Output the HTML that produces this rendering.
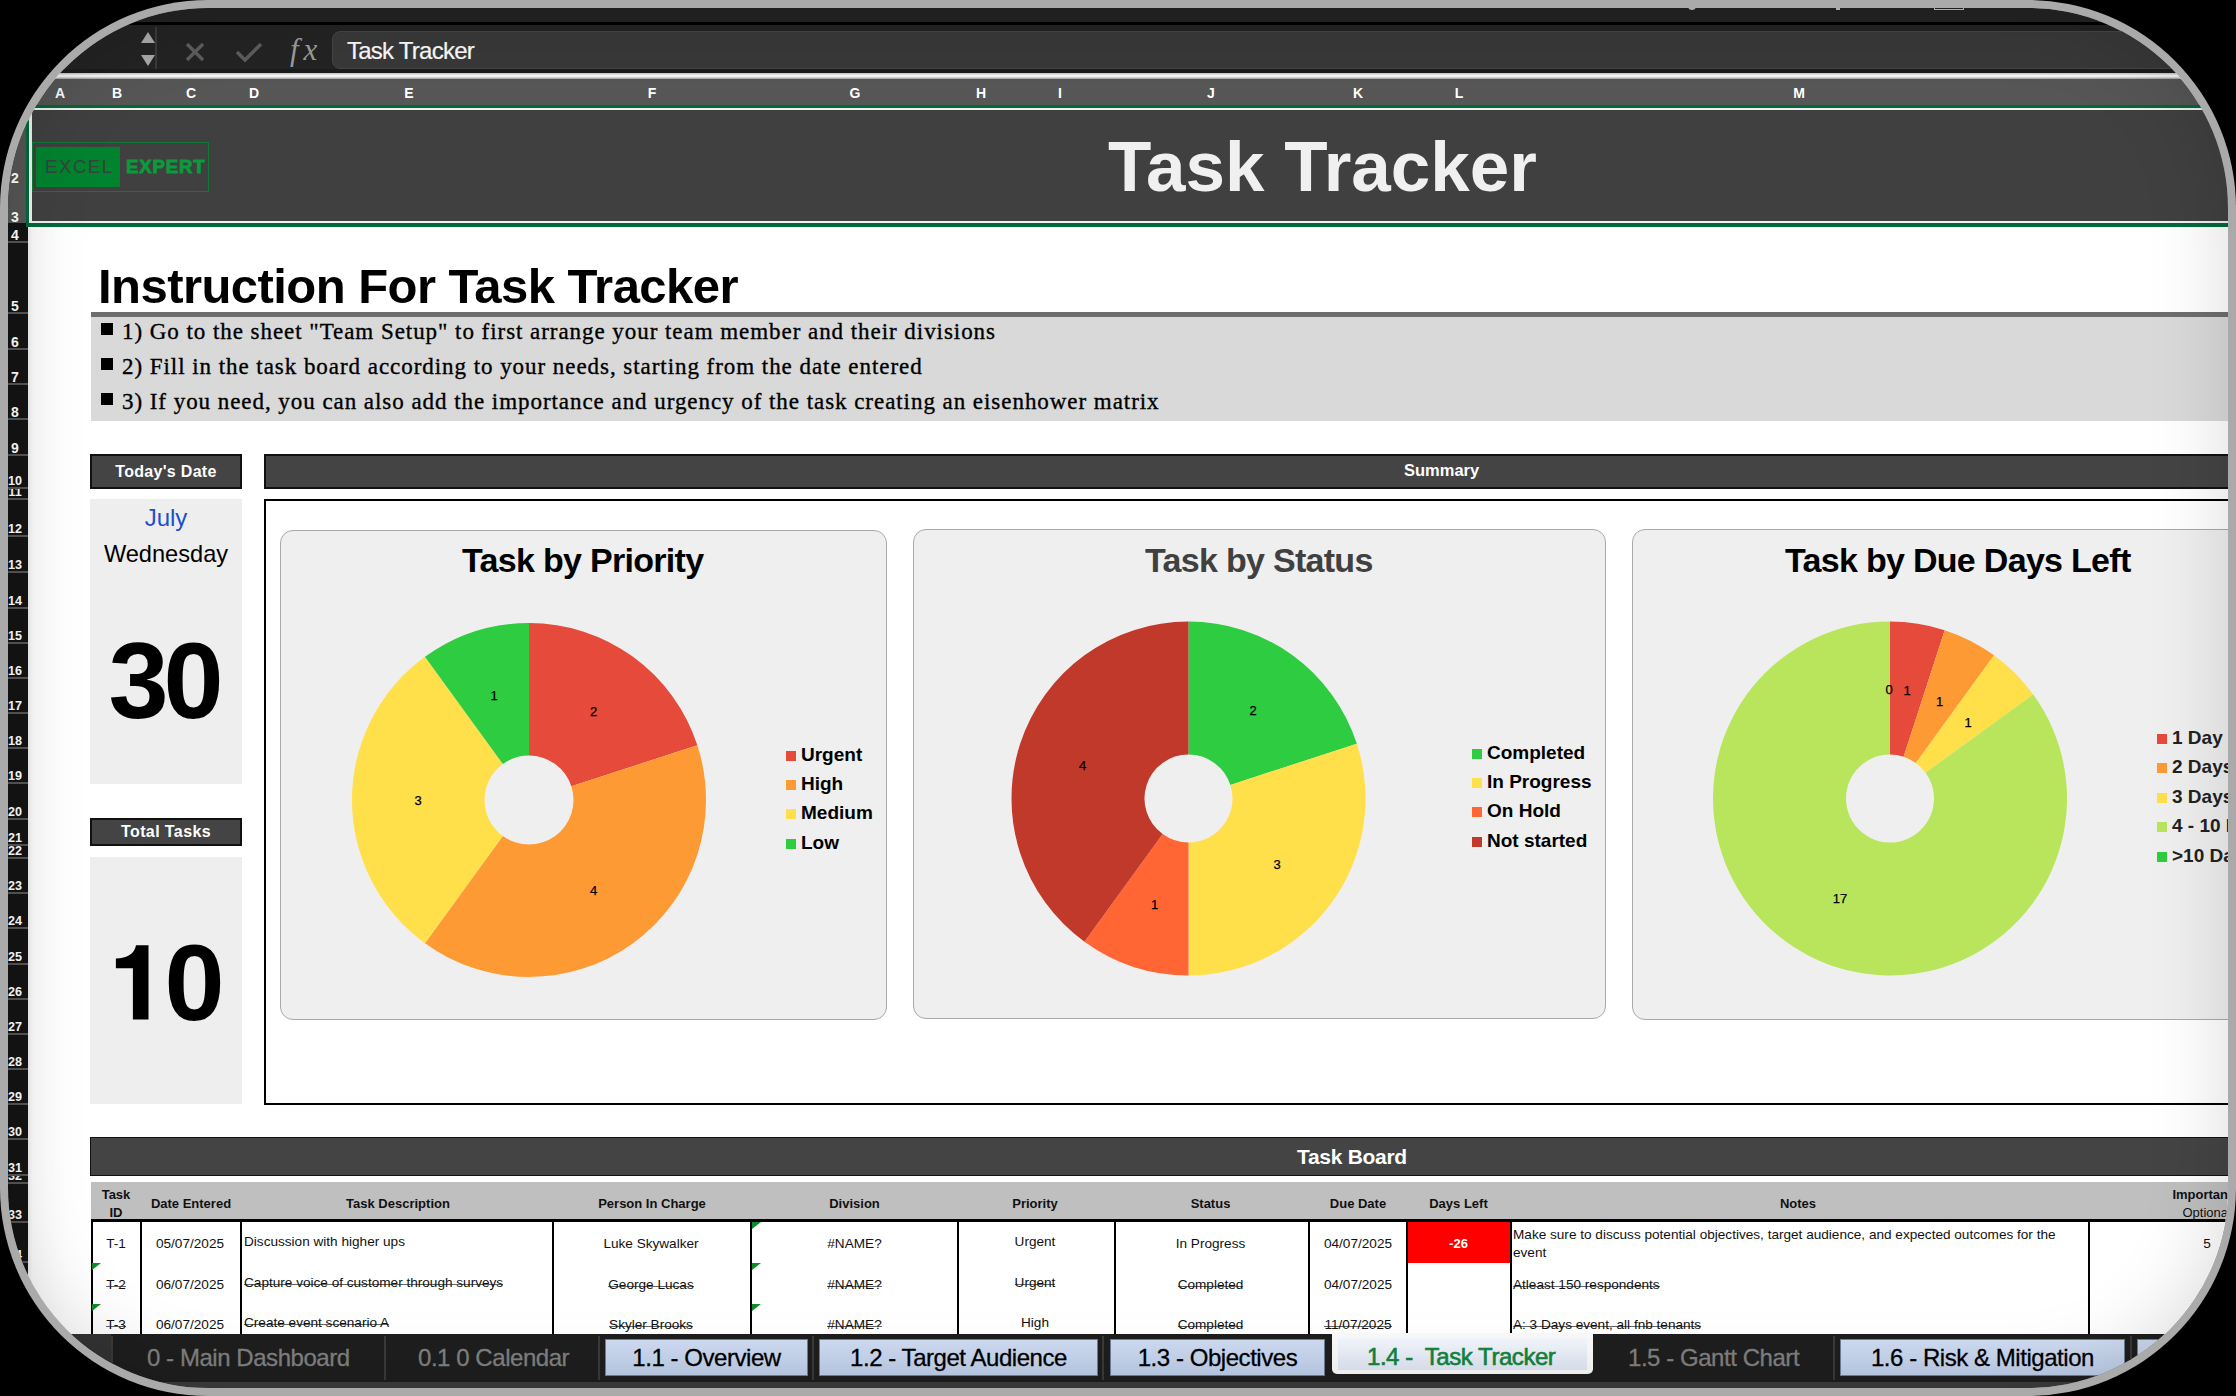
<!DOCTYPE html>
<html><head><meta charset="utf-8"><title>Task Tracker</title>
<style>
*{box-sizing:border-box;margin:0;padding:0}
html,body{width:2236px;height:1396px;overflow:hidden;background:#000}
body{position:relative;font-family:"Liberation Sans",sans-serif}
.ab{position:absolute}
#frame{position:absolute;left:0;top:0;width:2236px;height:1396px;border-radius:208px;background:#aaaaaa;overflow:hidden}
#scr{position:absolute;left:0;top:0;width:2236px;height:1396px;clip-path:inset(8px round 200px);background:#fff;overflow:hidden}
.t{position:absolute;white-space:nowrap;line-height:1}
.rn{position:absolute;left:8px;width:14px;text-align:center;color:#fff;font-weight:bold;font-size:13px;line-height:1}
.rs{position:absolute;left:8px;width:19.5px;height:2px;background:#555}
.cl{position:absolute;top:86px;color:#fff;font-weight:bold;font-size:14px;line-height:1;width:20px;margin-left:-10px;text-align:center}
.vd{position:absolute;width:2px;background:#000}
.cell{position:absolute;white-space:nowrap;font-size:13.6px;line-height:1;color:#111;text-align:center}
.s{display:inline-block;background:linear-gradient(transparent 8px,#666 8px,#666 9px,transparent 9px)}
.hd{position:absolute;font-weight:bold;font-size:13px;line-height:1;color:#111;white-space:nowrap;text-align:center}
.tab{position:absolute;top:1339px;height:37px;background:linear-gradient(#cfdcf2,#bfcfea);border:1px solid #6f7f96;font-size:24px;letter-spacing:-0.45px;color:#000;-webkit-text-stroke:0.3px #000;text-align:center;line-height:36px;white-space:nowrap}
.tabg{position:absolute;top:1334px;height:48px;font-size:24px;letter-spacing:-0.45px;color:#808080;-webkit-text-stroke:0.3px #808080;line-height:48px;white-space:nowrap}
.tsep{position:absolute;top:1336px;width:2px;height:44px;background:#3a3a3a}
.lg{position:absolute;font-weight:bold;font-size:19px;line-height:1;color:#000;white-space:nowrap}
.lgs{position:absolute;width:10px;height:10px}
.plab{position:absolute;font-size:13px;line-height:1;color:#000;-webkit-text-stroke:0.25px #000;width:30px;margin-left:-15px;text-align:center}
</style></head><body>
<div id="frame"><div id="scr">

<div class="ab" style="left:0;top:0;width:2236px;height:22px;background:#232323"></div>
<div class="ab" style="left:0;top:22px;width:2236px;height:3px;background:#000"></div>
<div class="ab" style="left:0;top:25px;width:2236px;height:48px;background:#232323"></div>
<div class="ab" style="left:1688px;top:6px;width:8px;height:4px;border:2px solid #bbb;border-top:none;border-radius:0 0 4px 4px"></div>
<div class="ab" style="left:1836px;top:6px;width:4px;height:4px;background:#bbb"></div>
<div class="ab" style="left:1934px;top:6px;width:30px;height:4px;border:1.5px solid #bbb;border-top:none"></div>
<div class="ab" style="left:155px;top:27px;width:1.5px;height:45px;background:#3a3a3a"></div>
<svg class="ab" style="left:138px;top:30px" width="20" height="40"><path d="M10,2 L17,13 L3,13 Z" fill="#a8a8a8"/><path d="M3,25 L17,25 L10,36 Z" fill="#a8a8a8"/></svg>
<svg class="ab" style="left:180px;top:38px" width="90" height="30"><path d="M7,6 L23,22 M23,6 L7,22" stroke="#5c5c5c" stroke-width="3.4" fill="none"/><path d="M57,14 L65,22 L81,6" stroke="#5c5c5c" stroke-width="3.6" fill="none"/></svg>
<div class="t" style="left:290px;top:34px;font-family:'Liberation Serif',serif;font-style:italic;font-size:31px;letter-spacing:5px;color:#9a9a9a">fx</div>
<div class="ab" style="left:332px;top:31px;width:1910px;height:38px;background:#383838;border:1px solid #454545;border-radius:8px"></div>
<div class="t" style="left:347px;top:39px;font-size:24px;letter-spacing:-0.75px;color:#f8f8f8;-webkit-text-stroke:0.2px #f8f8f8">Task Tracker</div>
<div class="ab" style="left:0;top:69px;width:2236px;height:4px;background:#1c1c1c"></div>
<div class="ab" style="left:0;top:73px;width:2236px;height:6px;background:linear-gradient(#bdbdbd,#f4f4f4 40%,#f4f4f4 60%,#9a9a9a)"></div>
<div class="ab" style="left:0;top:79px;width:2236px;height:26px;background:#565656"></div>
<div class="cl" style="left:60px">A</div>
<div class="cl" style="left:117px">B</div>
<div class="cl" style="left:191px">C</div>
<div class="cl" style="left:254px">D</div>
<div class="cl" style="left:409px">E</div>
<div class="cl" style="left:652px">F</div>
<div class="cl" style="left:855px">G</div>
<div class="cl" style="left:981px">H</div>
<div class="cl" style="left:1060px">I</div>
<div class="cl" style="left:1211px">J</div>
<div class="cl" style="left:1358px">K</div>
<div class="cl" style="left:1459px">L</div>
<div class="cl" style="left:1799px">M</div>
<div class="ab" style="left:0;top:104.5px;width:2236px;height:3.5px;background:#00693a"></div>
<div class="ab" style="left:0;top:108px;width:2236px;height:2px;background:#f0f0f0"></div>
<div class="ab" style="left:8px;top:110px;width:20px;height:1230px;background:#141414"></div>
<div class="ab" style="left:8px;top:110px;width:18px;height:113px;background:#565656"></div>
<div class="ab" style="left:5px;top:110px;width:20px;height:78px;overflow:hidden"><div class="rn" style="top:61.15px;left:0;width:20px;font-size:14px">2</div></div>
<div class="ab" style="left:5px;top:110px;width:20px;height:113px;overflow:hidden"><div class="rn" style="top:100.15px;left:0;width:20px;font-size:14px">3</div></div>
<div class="rs" style="top:241px"></div>
<div class="ab" style="left:5px;top:224px;width:20px;height:18px;overflow:hidden"><div class="rn" style="top:4.15px;left:0;width:20px;font-size:14px">4</div></div>
<div class="rs" style="top:312px"></div>
<div class="ab" style="left:5px;top:243px;width:20px;height:70px;overflow:hidden"><div class="rn" style="top:56.15px;left:0;width:20px;font-size:14px">5</div></div>
<div class="rs" style="top:348px"></div>
<div class="ab" style="left:5px;top:314px;width:20px;height:35px;overflow:hidden"><div class="rn" style="top:21.15px;left:0;width:20px;font-size:14px">6</div></div>
<div class="rs" style="top:383px"></div>
<div class="ab" style="left:5px;top:350px;width:20px;height:34px;overflow:hidden"><div class="rn" style="top:20.15px;left:0;width:20px;font-size:14px">7</div></div>
<div class="rs" style="top:418px"></div>
<div class="ab" style="left:5px;top:385px;width:20px;height:34px;overflow:hidden"><div class="rn" style="top:20.15px;left:0;width:20px;font-size:14px">8</div></div>
<div class="rs" style="top:454px"></div>
<div class="ab" style="left:5px;top:420px;width:20px;height:35px;overflow:hidden"><div class="rn" style="top:21.15px;left:0;width:20px;font-size:14px">9</div></div>
<div class="rs" style="top:487px"></div>
<div class="ab" style="left:5px;top:456px;width:20px;height:32px;overflow:hidden"><div class="rn" style="top:19.33px;left:0;width:20px;font-size:12.6px">10</div></div>
<div class="rs" style="top:498px"></div>
<div class="ab" style="left:5px;top:489px;width:20px;height:10px;overflow:hidden"><div class="rn" style="top:-2.67px;left:0;width:20px;font-size:12.6px">11</div></div>
<div class="rs" style="top:535px"></div>
<div class="ab" style="left:5px;top:500px;width:20px;height:36px;overflow:hidden"><div class="rn" style="top:23.33px;left:0;width:20px;font-size:12.6px">12</div></div>
<div class="rs" style="top:571px"></div>
<div class="ab" style="left:5px;top:537px;width:20px;height:35px;overflow:hidden"><div class="rn" style="top:22.33px;left:0;width:20px;font-size:12.6px">13</div></div>
<div class="rs" style="top:607px"></div>
<div class="ab" style="left:5px;top:573px;width:20px;height:35px;overflow:hidden"><div class="rn" style="top:22.33px;left:0;width:20px;font-size:12.6px">14</div></div>
<div class="rs" style="top:642px"></div>
<div class="ab" style="left:5px;top:609px;width:20px;height:34px;overflow:hidden"><div class="rn" style="top:21.33px;left:0;width:20px;font-size:12.6px">15</div></div>
<div class="rs" style="top:677px"></div>
<div class="ab" style="left:5px;top:644px;width:20px;height:34px;overflow:hidden"><div class="rn" style="top:21.33px;left:0;width:20px;font-size:12.6px">16</div></div>
<div class="rs" style="top:712px"></div>
<div class="ab" style="left:5px;top:679px;width:20px;height:34px;overflow:hidden"><div class="rn" style="top:21.33px;left:0;width:20px;font-size:12.6px">17</div></div>
<div class="rs" style="top:747px"></div>
<div class="ab" style="left:5px;top:714px;width:20px;height:34px;overflow:hidden"><div class="rn" style="top:21.33px;left:0;width:20px;font-size:12.6px">18</div></div>
<div class="rs" style="top:782px"></div>
<div class="ab" style="left:5px;top:749px;width:20px;height:34px;overflow:hidden"><div class="rn" style="top:21.33px;left:0;width:20px;font-size:12.6px">19</div></div>
<div class="rs" style="top:818px"></div>
<div class="ab" style="left:5px;top:784px;width:20px;height:35px;overflow:hidden"><div class="rn" style="top:22.33px;left:0;width:20px;font-size:12.6px">20</div></div>
<div class="rs" style="top:843.5px"></div>
<div class="ab" style="left:5px;top:820px;width:20px;height:24.5px;overflow:hidden"><div class="rn" style="top:11.83px;left:0;width:20px;font-size:12.6px">21</div></div>
<div class="rs" style="top:856.5px"></div>
<div class="ab" style="left:5px;top:845.5px;width:20px;height:12.0px;overflow:hidden"><div class="rn" style="top:-0.67px;left:0;width:20px;font-size:12.6px">22</div></div>
<div class="rs" style="top:892px"></div>
<div class="ab" style="left:5px;top:858px;width:20px;height:35px;overflow:hidden"><div class="rn" style="top:22.33px;left:0;width:20px;font-size:12.6px">23</div></div>
<div class="rs" style="top:927px"></div>
<div class="ab" style="left:5px;top:894px;width:20px;height:34px;overflow:hidden"><div class="rn" style="top:21.33px;left:0;width:20px;font-size:12.6px">24</div></div>
<div class="rs" style="top:963px"></div>
<div class="ab" style="left:5px;top:929px;width:20px;height:35px;overflow:hidden"><div class="rn" style="top:22.33px;left:0;width:20px;font-size:12.6px">25</div></div>
<div class="rs" style="top:998px"></div>
<div class="ab" style="left:5px;top:965px;width:20px;height:34px;overflow:hidden"><div class="rn" style="top:21.33px;left:0;width:20px;font-size:12.6px">26</div></div>
<div class="rs" style="top:1033px"></div>
<div class="ab" style="left:5px;top:1000px;width:20px;height:34px;overflow:hidden"><div class="rn" style="top:21.33px;left:0;width:20px;font-size:12.6px">27</div></div>
<div class="rs" style="top:1068px"></div>
<div class="ab" style="left:5px;top:1035px;width:20px;height:34px;overflow:hidden"><div class="rn" style="top:21.33px;left:0;width:20px;font-size:12.6px">28</div></div>
<div class="rs" style="top:1103px"></div>
<div class="ab" style="left:5px;top:1070px;width:20px;height:34px;overflow:hidden"><div class="rn" style="top:21.33px;left:0;width:20px;font-size:12.6px">29</div></div>
<div class="rs" style="top:1138px"></div>
<div class="ab" style="left:5px;top:1105px;width:20px;height:34px;overflow:hidden"><div class="rn" style="top:21.33px;left:0;width:20px;font-size:12.6px">30</div></div>
<div class="rs" style="top:1174px"></div>
<div class="ab" style="left:5px;top:1140px;width:20px;height:35px;overflow:hidden"><div class="rn" style="top:22.33px;left:0;width:20px;font-size:12.6px">31</div></div>
<div class="rs" style="top:1182px"></div>
<div class="ab" style="left:5px;top:1176px;width:20px;height:7px;overflow:hidden"><div class="rn" style="top:-5.67px;left:0;width:20px;font-size:12.6px">32</div></div>
<div class="rs" style="top:1221px"></div>
<div class="ab" style="left:5px;top:1184px;width:20px;height:38px;overflow:hidden"><div class="rn" style="top:25.33px;left:0;width:20px;font-size:12.6px">33</div></div>
<div class="rs" style="top:1261px"></div>
<div class="ab" style="left:5px;top:1223px;width:20px;height:39px;overflow:hidden"><div class="rn" style="top:26.33px;left:0;width:20px;font-size:12.6px">34</div></div>
<div class="rs" style="top:1302px"></div>
<div class="ab" style="left:5px;top:1263px;width:20px;height:40px;overflow:hidden"><div class="rn" style="top:27.33px;left:0;width:20px;font-size:12.6px">35</div></div>
<div class="rs" style="top:1342px"></div>
<div class="ab" style="left:5px;top:1304px;width:20px;height:39px;overflow:hidden"><div class="rn" style="top:26.33px;left:0;width:20px;font-size:12.6px">36</div></div>
<div class="ab" style="left:26px;top:104.5px;width:2220px;height:122.5px;background:#00693a"></div>
<div class="ab" style="left:29px;top:108px;width:2220px;height:115px;background:#f0f0f0"></div>
<div class="ab" style="left:31.5px;top:110px;width:2220px;height:111px;background:#404040"></div>
<div class="ab" style="left:32px;top:142px;width:177px;height:50px;border:1.5px solid #0f7a35"></div>
<div class="ab" style="left:36px;top:147px;width:84px;height:40px;background:#00832f"></div>
<div class="t" style="left:45px;top:158px;font-size:18.5px;letter-spacing:1.6px;color:#35453a;font-weight:normal">EXCEL</div>
<div class="t" style="left:126px;top:158px;font-size:18.5px;font-weight:bold;letter-spacing:0.9px;color:#0b9a3c;-webkit-text-stroke:0.9px #0b9a3c">EXPERT</div>
<div class="t" style="left:1108px;top:131px;font-size:71px;font-weight:bold;color:#f0f0f0">Task Tracker</div>
<div class="t" style="left:98px;top:262px;font-size:49px;font-weight:bold;letter-spacing:-0.55px;color:#000">Instruction For Task Tracker</div>
<div class="ab" style="left:91px;top:312px;width:2160px;height:5px;background:#6e6e6e"></div>
<div class="ab" style="left:91px;top:317px;width:2160px;height:104px;background:#d9d9d9"></div>
<div class="ab" style="left:101px;top:323px;width:12px;height:12px;background:#000"></div>
<div class="t" style="left:122px;top:320px;font-family:'Liberation Serif',serif;font-size:23px;letter-spacing:0.95px;color:#000;-webkit-text-stroke:0.35px #000">1) Go to the sheet &quot;Team Setup&quot; to first arrange your team member and their divisions</div>
<div class="ab" style="left:101px;top:358px;width:12px;height:12px;background:#000"></div>
<div class="t" style="left:122px;top:355px;font-family:'Liberation Serif',serif;font-size:23px;letter-spacing:0.95px;color:#000;-webkit-text-stroke:0.35px #000">2) Fill in the task board according to your needs, starting from the date entered</div>
<div class="ab" style="left:101px;top:393px;width:12px;height:12px;background:#000"></div>
<div class="t" style="left:122px;top:390px;font-family:'Liberation Serif',serif;font-size:23px;letter-spacing:0.95px;color:#000;-webkit-text-stroke:0.35px #000">3) If you need, you can also add the importance and urgency of the task creating an eisenhower matrix</div>
<div class="ab" style="left:90px;top:454px;width:152px;height:35px;background:#444;border:2px solid #111;color:#fff;font-weight:bold;font-size:16px;letter-spacing:0.3px;text-align:center;line-height:32px;white-space:nowrap;overflow:hidden">Today's Date</div>
<div class="ab" style="left:90px;top:499px;width:152px;height:285px;background:#eeeeee"></div>
<div class="t" style="left:90px;width:152px;text-align:center;top:506px;font-size:24px;color:#1a4fd0">July</div>
<div class="t" style="left:90px;width:152px;text-align:center;top:543px;font-size:23.6px;color:#000">Wednesday</div>
<div class="t" style="left:90px;width:152px;text-align:center;top:627px;font-size:108px;font-weight:bold;color:#000;letter-spacing:-5px;text-indent:-5px">30</div>
<div class="ab" style="left:90px;top:818px;width:152px;height:28px;background:#444;border:2px solid #111;color:#fff;font-weight:bold;font-size:16px;letter-spacing:0.4px;text-align:center;line-height:23px;white-space:nowrap;overflow:hidden">Total Tasks</div>
<div class="ab" style="left:90px;top:857px;width:152px;height:247px;background:#eeeeee"></div>
<div class="t" style="left:90px;width:152px;text-align:center;top:929px;font-size:108px;font-weight:bold;color:#000;letter-spacing:-5px;text-indent:-3px"><span style="visibility:hidden">1</span>0</div>
<svg class="ab" style="left:0;top:0" width="300" height="1100"><path d="M136,945.2 L148.5,945.2 L148.5,1019.5 L132.9,1019.5 L132.9,968.3 L115.9,968.3 L115.9,958.5 C127,958 134.5,954 136,945.2 Z" fill="#000"/></svg>
<div class="ab" style="left:264px;top:454px;width:2000px;height:35px;background:#444;border:2px solid #111;color:#fff;font-weight:bold;font-size:16.5px;letter-spacing:0px;text-align:center;line-height:32px;white-space:nowrap;overflow:hidden"><span style="position:absolute;left:1138px;top:-2px">Summary</span></div>
<div class="ab" style="left:264px;top:498.5px;width:2000px;height:606px;border:2px solid #000;background:#fff"></div>
<div class="ab" style="left:280px;top:530px;width:607px;height:490px;background:#efefef;border:1.3px solid #a9a9a9;border-radius:13px"></div>
<div class="ab" style="left:913px;top:529px;width:693px;height:490px;background:#efefef;border:1.3px solid #a9a9a9;border-radius:13px"></div>
<div class="ab" style="left:1632px;top:529px;width:700px;height:491px;background:#efefef;border:1.3px solid #a9a9a9;border-radius:13px"></div>
<div class="t" style="left:462px;top:543px;font-size:34px;font-weight:bold;letter-spacing:-0.7px;color:#000">Task by Priority</div>
<div class="t" style="left:1145px;top:543px;font-size:34px;font-weight:bold;letter-spacing:-0.7px;color:#404040">Task by Status</div>
<div class="t" style="left:1785px;top:543px;font-size:34px;font-weight:bold;letter-spacing:-0.7px;color:#000">Task by Due Days Left</div>
<svg class="ab" style="left:0;top:0" width="2236" height="1396">
<path d="M529.00,623.00 A177,177 0 0 1 697.34,745.30 L571.32,786.25 A44.5,44.5 0 0 0 529.00,755.50 Z" fill="#e64a3b"/><path d="M697.34,745.30 A177,177 0 0 1 424.96,943.20 L502.84,836.00 A44.5,44.5 0 0 0 571.32,786.25 Z" fill="#fd9a34"/><path d="M424.96,943.20 A177,177 0 0 1 424.96,656.80 L502.84,764.00 A44.5,44.5 0 0 0 502.84,836.00 Z" fill="#ffdf4a"/><path d="M424.96,656.80 A177,177 0 0 1 529.00,623.00 L529.00,755.50 A44.5,44.5 0 0 0 502.84,764.00 Z" fill="#2ecc40"/>
<path d="M1188.50,621.50 A177,177 0 0 1 1356.84,743.80 L1230.35,784.90 A44,44 0 0 0 1188.50,754.50 Z" fill="#2ecc40"/><path d="M1356.84,743.80 A177,177 0 0 1 1188.50,975.50 L1188.50,842.50 A44,44 0 0 0 1230.35,784.90 Z" fill="#ffdf4a"/><path d="M1188.50,975.50 A177,177 0 0 1 1084.46,941.70 L1162.64,834.10 A44,44 0 0 0 1188.50,842.50 Z" fill="#ff6633"/><path d="M1084.46,941.70 A177,177 0 0 1 1188.50,621.50 L1188.50,754.50 A44,44 0 0 0 1162.64,834.10 Z" fill="#c0392b"/>
<path d="M1890.00,621.50 A177,177 0 0 1 1944.70,630.16 L1903.60,756.65 A44,44 0 0 0 1890.00,754.50 Z" fill="#e64a3b"/><path d="M1944.70,630.16 A177,177 0 0 1 1994.04,655.30 L1915.86,762.90 A44,44 0 0 0 1903.60,756.65 Z" fill="#fd9a34"/><path d="M1994.04,655.30 A177,177 0 0 1 2033.20,694.46 L1925.60,772.64 A44,44 0 0 0 1915.86,762.90 Z" fill="#ffdf4a"/><path d="M2033.20,694.46 A177,177 0 1 1 1890.00,621.50 L1890.00,754.50 A44,44 0 1 0 1925.60,772.64 Z" fill="#b8e55b"/>
</svg>
<div class="plab" style="left:494px;top:688.5px">1</div>
<div class="plab" style="left:593.5px;top:704.5px">2</div>
<div class="plab" style="left:418px;top:794.0px">3</div>
<div class="plab" style="left:593.5px;top:883.5px">4</div>
<div class="plab" style="left:1253px;top:703.5px">2</div>
<div class="plab" style="left:1277px;top:858.0px">3</div>
<div class="plab" style="left:1154.5px;top:898.0px">1</div>
<div class="plab" style="left:1082.5px;top:758.5px">4</div>
<div class="plab" style="left:1889px;top:683.0px">0</div>
<div class="plab" style="left:1907px;top:683.5px">1</div>
<div class="plab" style="left:1939.5px;top:695.0px">1</div>
<div class="plab" style="left:1968px;top:715.5px">1</div>
<div class="plab" style="left:1840px;top:891.5px">17</div>
<div class="lgs" style="left:786px;top:750.5px;background:#e64a3b"></div>
<div class="lg" style="left:801px;top:744.5px;color:#000">Urgent</div>
<div class="lgs" style="left:786px;top:779.9px;background:#fd9a34"></div>
<div class="lg" style="left:801px;top:773.9px;color:#000">High</div>
<div class="lgs" style="left:786px;top:809.3px;background:#ffdf4a"></div>
<div class="lg" style="left:801px;top:803.3px;color:#000">Medium</div>
<div class="lgs" style="left:786px;top:838.7px;background:#2ecc40"></div>
<div class="lg" style="left:801px;top:832.7px;color:#000">Low</div>
<div class="lgs" style="left:1472px;top:748.5px;background:#2ecc40"></div>
<div class="lg" style="left:1487px;top:742.5px;color:#000">Completed</div>
<div class="lgs" style="left:1472px;top:777.9px;background:#ffdf4a"></div>
<div class="lg" style="left:1487px;top:771.9px;color:#000">In Progress</div>
<div class="lgs" style="left:1472px;top:807.3px;background:#ff6633"></div>
<div class="lg" style="left:1487px;top:801.3px;color:#000">On Hold</div>
<div class="lgs" style="left:1472px;top:836.7px;background:#c0392b"></div>
<div class="lg" style="left:1487px;top:830.7px;color:#000">Not started</div>
<div class="lgs" style="left:2157px;top:734.0px;background:#e64a3b"></div>
<div class="lg" style="left:2172px;top:728.0px;color:#222">1 Day</div>
<div class="lgs" style="left:2157px;top:763.4px;background:#fd9a34"></div>
<div class="lg" style="left:2172px;top:757.4px;color:#222">2 Days</div>
<div class="lgs" style="left:2157px;top:792.8px;background:#ffdf4a"></div>
<div class="lg" style="left:2172px;top:786.8px;color:#222">3 Days</div>
<div class="lgs" style="left:2157px;top:822.2px;background:#b8e55b"></div>
<div class="lg" style="left:2172px;top:816.2px;color:#222">4 - 10 Days</div>
<div class="lgs" style="left:2157px;top:851.6px;background:#2ecc40"></div>
<div class="lg" style="left:2172px;top:845.6px;color:#222">>10 Days</div>
<div class="ab" style="left:90px;top:1137px;width:2160px;height:39px;background:#444;border:1.5px solid #111"></div>
<div class="t" style="left:1297px;top:1146px;font-size:21px;font-weight:bold;letter-spacing:-0.3px;color:#fff">Task Board</div>
<div class="ab" style="left:91px;top:1182px;width:2160px;height:37px;background:#bfbfbf"></div>
<div class="ab" style="left:91px;top:1219px;width:2160px;height:3px;background:#000"></div>
<div class="ab" style="left:91px;top:1222px;width:2160px;height:120px;background:#fff"></div>
<div class="ab" style="left:1407px;top:1222px;width:103px;height:40.5px;background:#ff0000"></div>
<div class="vd" style="left:91px;top:1222px;height:120px"></div>
<div class="vd" style="left:140px;top:1222px;height:120px"></div>
<div class="vd" style="left:240px;top:1222px;height:120px"></div>
<div class="vd" style="left:552px;top:1222px;height:120px"></div>
<div class="vd" style="left:750px;top:1222px;height:120px"></div>
<div class="vd" style="left:957px;top:1222px;height:120px"></div>
<div class="vd" style="left:1114px;top:1222px;height:120px"></div>
<div class="vd" style="left:1308px;top:1222px;height:120px"></div>
<div class="vd" style="left:1406px;top:1222px;height:120px"></div>
<div class="vd" style="left:1509.5px;top:1222px;height:120px"></div>
<div class="vd" style="left:2088px;top:1222px;height:120px"></div>
<div class="hd" style="left:111px;width:160px;top:1197px">Date Entered</div>
<div class="hd" style="left:318px;width:160px;top:1197px">Task Description</div>
<div class="hd" style="left:572px;width:160px;top:1197px">Person In Charge</div>
<div class="hd" style="left:774.5px;width:160px;top:1197px">Division</div>
<div class="hd" style="left:955px;width:160px;top:1197px">Priority</div>
<div class="hd" style="left:1130.5px;width:160px;top:1197px">Status</div>
<div class="hd" style="left:1278px;width:160px;top:1197px">Due Date</div>
<div class="hd" style="left:1378.5px;width:160px;top:1197px">Days Left</div>
<div class="hd" style="left:1718px;width:160px;top:1197px">Notes</div>
<div class="hd" style="left:76px;width:80px;top:1188px">Task</div>
<div class="hd" style="left:76px;width:80px;top:1206px">ID</div>
<div class="hd" style="left:2100px;width:128px;top:1188px;text-align:right">Importan</div>
<div class="hd" style="left:2100px;width:128px;top:1206px;text-align:right;font-weight:normal">Optiona</div>
<div class="cell" style="left:92.0px;width:48px;top:1237px;">T-1</div>
<div class="cell" style="left:141.0px;width:98px;top:1237px;">05/07/2025</div>
<div class="cell" style="left:244px;top:1235px;text-align:left;">Discussion with higher ups</div>
<div class="cell" style="left:553.0px;width:196px;top:1237px;">Luke Skywalker</div>
<div class="cell" style="left:754.5px;width:200px;top:1237px;">#NAME?</div>
<div class="cell" style="left:960.0px;width:150px;top:1235px;">Urgent</div>
<div class="cell" style="left:1115.5px;width:190px;top:1237px;">In Progress</div>
<div class="cell" style="left:1310.0px;width:96px;top:1237px;">04/07/2025</div>
<div class="cell" style="left:92.0px;width:48px;top:1278px;"><span class="s">T-2</span></div>
<div class="cell" style="left:141.0px;width:98px;top:1278px;">06/07/2025</div>
<div class="cell" style="left:244px;top:1276px;text-align:left;"><span class="s">Capture voice of customer through surveys</span></div>
<div class="cell" style="left:553.0px;width:196px;top:1278px;"><span class="s">George Lucas</span></div>
<div class="cell" style="left:754.5px;width:200px;top:1278px;"><span class="s">#NAME?</span></div>
<div class="cell" style="left:960.0px;width:150px;top:1276px;"><span class="s">Urgent</span></div>
<div class="cell" style="left:1115.5px;width:190px;top:1278px;"><span class="s">Completed</span></div>
<div class="cell" style="left:1310.0px;width:96px;top:1278px;">04/07/2025</div>
<div class="cell" style="left:92.0px;width:48px;top:1318px;"><span class="s">T-3</span></div>
<div class="cell" style="left:141.0px;width:98px;top:1318px;">06/07/2025</div>
<div class="cell" style="left:244px;top:1316px;text-align:left;"><span class="s">Create event scenario A</span></div>
<div class="cell" style="left:553.0px;width:196px;top:1318px;"><span class="s">Skyler Brooks</span></div>
<div class="cell" style="left:754.5px;width:200px;top:1318px;"><span class="s">#NAME?</span></div>
<div class="cell" style="left:960.0px;width:150px;top:1316px;">High</div>
<div class="cell" style="left:1115.5px;width:190px;top:1318px;"><span class="s">Completed</span></div>
<div class="cell" style="left:1310.0px;width:96px;top:1318px;"><span class="s">11/07/2025</span></div>
<div class="cell" style="left:1408.5px;width:100px;top:1237px;color:#fff;font-weight:bold;font-size:13px">-26</div>
<div class="cell" style="left:1513px;top:1226px;text-align:left;line-height:18px">Make sure to discuss potential objectives, target audience, and expected outcomes for the<br>event</div>
<div class="cell" style="left:1513px;top:1277.5px;text-align:left;"><span class="s">Atleast 150 respondents</span></div>
<div class="cell" style="left:1513px;top:1318px;text-align:left;"><span class="s">A: 3 Days event, all fnb tenants</span></div>
<div class="cell" style="left:2197.0px;width:20px;top:1237px;">5</div>
<svg class="ab" style="left:92px;top:1263px" width="10" height="10"><path d="M0,0 L9,0 L0,7 Z" fill="#108a2a"/></svg>
<svg class="ab" style="left:92px;top:1304px" width="10" height="10"><path d="M0,0 L9,0 L0,7 Z" fill="#108a2a"/></svg>
<svg class="ab" style="left:752px;top:1222px" width="10" height="10"><path d="M0,0 L9,0 L0,7 Z" fill="#108a2a"/></svg>
<svg class="ab" style="left:752px;top:1263px" width="10" height="10"><path d="M0,0 L9,0 L0,7 Z" fill="#108a2a"/></svg>
<svg class="ab" style="left:752px;top:1304px" width="10" height="10"><path d="M0,0 L9,0 L0,7 Z" fill="#108a2a"/></svg>
<div class="ab" style="left:0;top:1334px;width:2236px;height:48px;background:#1e1e1e"></div>
<div class="ab" style="left:0;top:1382px;width:2236px;height:6px;background:#3c3c3c"></div>
<div class="ab" style="left:0;top:1334px;width:111px;height:48px;background:#333"></div>
<div class="tsep" style="left:111px"></div>
<div class="tsep" style="left:384px"></div>
<div class="tsep" style="left:598px"></div>
<div class="tsep" style="left:812px"></div>
<div class="tsep" style="left:1102px"></div>
<div class="tsep" style="left:1833px"></div>
<div class="tsep" style="left:2130px"></div>
<div class="tabg" style="left:147px">0 - Main Dashboard</div>
<div class="tabg" style="left:418px">0.1 0 Calendar</div>
<div class="tab" style="left:605px;width:203px">1.1 - Overview</div>
<div class="tab" style="left:819px;width:279px">1.2 - Target Audience</div>
<div class="tab" style="left:1110px;width:215px">1.3 - Objectives</div>
<div class="ab" style="left:1332px;top:1333px;width:261px;height:41px;background:#fafafa;border-radius:0 0 5px 5px"></div>
<div class="ab" style="left:1338px;top:1338px;width:249px;height:32px;background:linear-gradient(#f4f7fc,#dfe7f4)"></div>
<div class="t" style="left:1367px;top:1345px;font-size:24px;letter-spacing:-0.45px;color:#13843d;-webkit-text-stroke:0.6px #13843d">1.4 -&nbsp; Task Tracker</div>
<div class="tabg" style="left:1628px">1.5 - Gantt Chart</div>
<div class="tab" style="left:1840px;width:285px">1.6 - Risk &amp; Mitigation</div>
<div class="tab" style="left:2137px;width:200px"></div>
<div class="ab" style="left:28px;top:223px;width:40px;height:1111px;background:linear-gradient(90deg,rgba(0,0,0,0.07),rgba(0,0,0,0.015) 12%,rgba(0,0,0,0) 100%)"></div>
<div class="ab" style="left:8px;top:8px;width:2220px;height:1380px;border-radius:200px;box-shadow:inset 0 0 80px rgba(0,0,0,0.15)"></div>
</div></div></body></html>
